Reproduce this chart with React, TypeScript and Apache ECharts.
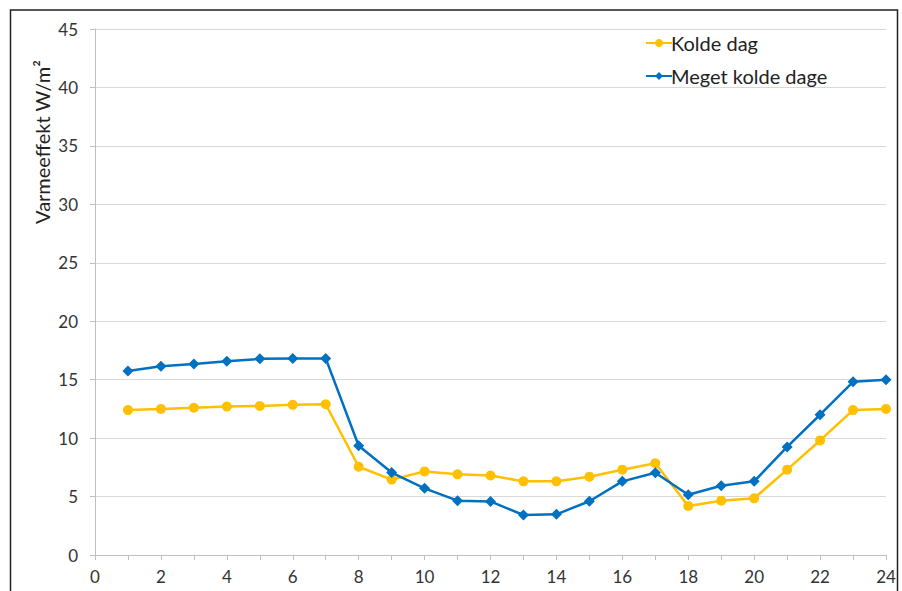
import React, { useEffect, useRef } from "react";
import * as echarts from "echarts";

const hours = [1, 2, 3, 4, 5, 6, 7, 8, 9, 10, 11, 12, 13, 14, 15, 16, 17, 18, 19, 20, 21, 22, 23, 24];
const koldeDag = [12.4, 12.5, 12.6, 12.7, 12.75, 12.85, 12.9, 7.55, 6.45, 7.15, 6.9, 6.8, 6.3, 6.3, 6.7, 7.3, 7.85, 4.2, 4.65, 4.85, 7.3, 9.8, 12.4, 12.5];
const megetKoldeDage = [15.75, 16.15, 16.35, 16.58, 16.78, 16.82, 16.82, 9.35, 7.05, 5.7, 4.65, 4.58, 3.42, 3.48, 4.6, 6.3, 7.03, 5.15, 5.92, 6.3, 9.25, 12.0, 14.82, 15.0];
const seriesNames = ["Kolde dag", "Meget kolde dage"];
const yAxisTitle = "Varmeeffekt W/m²";

const FONT = "Lato, 'Open Sans', sans-serif";

export default function App() {
  const ref = useRef<HTMLDivElement>(null);
  useEffect(() => {
    document.body.style.margin = "0";
    const chart = echarts.init(ref.current!, null, { renderer: "svg" });
    chart.setOption({
      animation: false,
      backgroundColor: "#fff",
      textStyle: { fontFamily: FONT },
      grid: { left: 95, right: 16, top: 29, bottom: 36 },
      legend: {
        left: 640,
        top: 28,
        orient: "vertical",
        itemGap: 13,
        itemWidth: 26,
        itemHeight: 10,
        textStyle: { fontSize: 20, color: "#222", fontFamily: FONT, padding: [0, 0, 0, -6] },
        data: seriesNames,
      },
      xAxis: {
        type: "value",
        min: 0,
        max: 24,
        interval: 1,
        axisLine: { show: true, lineStyle: { color: "#bfbfbf", width: 1 } },
        axisTick: { show: true, length: 5, lineStyle: { color: "#bfbfbf" } },
        splitLine: { show: false },
        axisLabel: {
          fontSize: 17,
          color: "#333",
          margin: 13,
          fontFamily: FONT,
          formatter: (v: number) => (v % 2 === 0 ? String(v) : ""),
          showMaxLabel: true,
        },
      },
      yAxis: {
        type: "value",
        min: 0,
        max: 45,
        interval: 5,
        axisLine: { show: true, lineStyle: { color: "#bfbfbf", width: 1 } },
        axisTick: { show: true, length: 5, lineStyle: { color: "#bfbfbf" } },
        splitLine: { show: true, lineStyle: { color: "#d9d9d9", width: 1 } },
        axisLabel: { fontSize: 17, color: "#333", margin: 17, fontFamily: FONT },
      },
      series: [
        {
          name: seriesNames[0],
          type: "line",
          data: hours.map((h, i) => [h, koldeDag[i]]),
          symbol: "circle",
          symbolSize: 10,
          lineStyle: { color: "#FFC000", width: 2.5 },
          itemStyle: { color: "#FFC000" },
          z: 2,
        },
        {
          name: seriesNames[1],
          type: "line",
          data: hours.map((h, i) => [h, megetKoldeDage[i]]),
          symbol: "diamond",
          symbolSize: 11,
          lineStyle: { color: "#0070C0", width: 2.5 },
          itemStyle: { color: "#0070C0" },
          z: 3,
        },
      ],
      graphic: [
        {
          type: "rect",
          shape: { x: 10.5, y: 10, width: 887, height: 600 },
          style: { fill: "none", stroke: "#222", lineWidth: 1.5 },
          silent: true,
        },
        {
          type: "text",
          x: 42,
          y: 142,
          rotation: Math.PI / 2,
          style: {
            text: yAxisTitle,
            fontSize: 20,
            fill: "#222",
            fontFamily: FONT,
            align: "center",
            verticalAlign: "middle",
          },
        },
      ],
    });
    return () => chart.dispose();
  }, []);
  return <div ref={ref} style={{ width: 902, height: 591 }} />;
}
